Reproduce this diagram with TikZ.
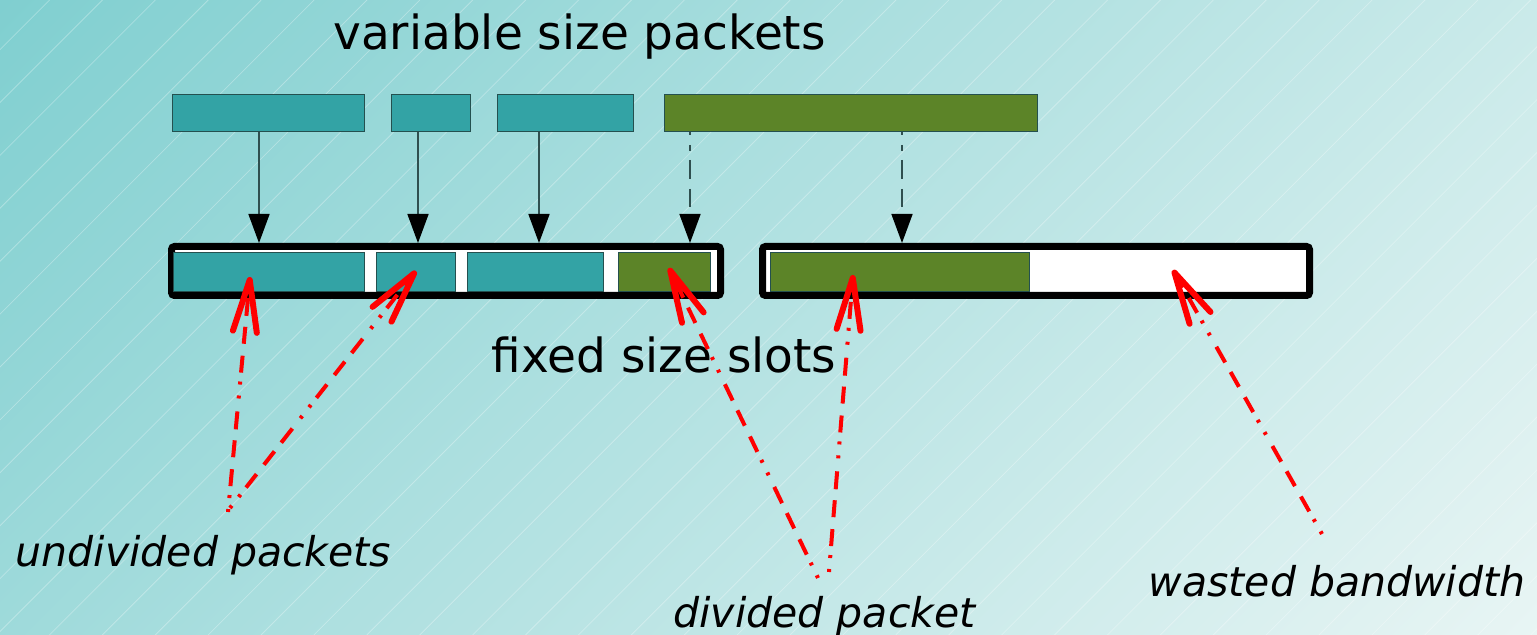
\documentclass[tikz,border=0pt]{standalone}
\usepackage{fontspec}
\setmainfont{DejaVu Sans}
\usetikzlibrary{arrows.meta}
\definecolor{teal1}{HTML}{33A3A5}
\definecolor{green1}{HTML}{5C8428}
\definecolor{edge1}{HTML}{24504F}
\definecolor{bgdark}{HTML}{80CFD0}
\definecolor{bglight}{HTML}{E8F5F4}
\definecolor{shaftc}{HTML}{2F4F4F}
\begin{document}
\begin{tikzpicture}[x=0.5pt,y=-0.5pt,
  pkt/.style={draw=edge1, line width=0.5pt, inner sep=0pt, outer sep=0pt, minimum height=18.5pt},
  tpkt/.style={pkt, fill=teal1},
  gpkt/.style={pkt, fill=green1},
  ipkt/.style={pkt, minimum height=19.5pt},
  slot/.style={draw=black, fill=white, line width=3.5pt, rounded corners=1.5pt, inner sep=0pt, minimum height=24.5pt},
  bigtext/.style={font=\fontsize{23.5}{28}\selectfont, inner sep=0pt, anchor=base},
  labtext/.style={font=\fontsize{20.5}{24}\selectfont\itshape, inner sep=0pt, anchor=base},
  blk/.style={draw=shaftc, line width=0.8pt, -{Triangle[length=14.5pt,width=10.5pt,color=black]}},
  blkdash/.style={blk, dash pattern=on 1.5pt off 5pt on 3pt off 4.5pt on 9.5pt off 5pt on 9pt off 10pt},
  redarr/.style={draw=red, line width=2pt,
    dash pattern=on 1.5pt off 5.5pt on 1.5pt off 4.5pt on 8.5pt off 6pt on 8.5pt off 5.5pt on 9pt off 6.5pt,
    -{Straight Barb[length=26pt,width=12pt,line width=3pt,round]}}
]
\useasboundingbox (0,0) rectangle (1537,635);
% background
\begin{scope}
  \clip (0,0) rectangle (1537,635);
  \shade[top color=bgdark, bottom color=bglight, shading angle=45]
    (-1.5,-452.5) rectangle (1538.5,1087.5);
  \foreach \k in {-7,...,34}{
    \pgfmathsetmacro{\cc}{367+52.9*\k}
    \draw[white, opacity=0.3, line width=0.4pt] (\cc,0) -- ++(-635,635);
  }
\end{scope}

% title
\node[bigtext] (title) at (579.5,50) {variable size packets};

% top packets
\node[tpkt, minimum width=96pt]   (p1) at (268,113.5) {};
\node[tpkt, minimum width=39.5pt] (p2) at (430.5,113.5) {};
\node[tpkt, minimum width=68pt]   (p3) at (565,113.5) {};
\node[gpkt, minimum width=186.5pt] (p4) at (850.5,113.5) {};

% slots
\node[slot, minimum width=274.5pt] (s1) at (446,271) {};
\node[slot, minimum width=273.5pt] (s2) at (1036,271) {};

% packets inside slots
\node[ipkt, fill=teal1, minimum width=95.5pt] (q1) at (268.5,272.5) {};
\node[ipkt, fill=teal1, minimum width=39.5pt] (q2) at (415.5,272.5) {};
\node[ipkt, fill=teal1, minimum width=68pt]   (q3) at (535,272.5) {};
\node[ipkt, fill=green1, minimum width=46pt]  (q4) at (664,272.5) {};
\node[ipkt, fill=green1, minimum width=129.5pt] (q5) at (899.5,272.5) {};

% black arrows
\coordinate (a1) at (259,132);
\coordinate (a2) at (418,132);
\coordinate (a3) at (539,132);
\coordinate (a4) at (690,132);
\coordinate (a5) at (902,132);
\draw[blk] (a1) -- (a1 |- s1.north);
\draw[blk] (a2) -- (a2 |- s1.north);
\draw[blk] (a3) -- (a3 |- s1.north);
\draw[blkdash] (a4) -- (a4 |- s1.north);
\draw[blkdash] (a5) -- (a5 |- s2.north);

% labels
\node[bigtext] (fixed) at (664,373) {fixed size slots};
\node[labtext] (undiv) at (203.5,567) {undivided packets};
\node[labtext] (div) at (824.5,628) {divided packet};
\node[labtext] (waste) at (1337,597) {wasted bandwidth};

% red arrows
\coordinate (u1) at (228,512);
\coordinate (u2) at (230,508);
\coordinate (d1) at (818,578);
\coordinate (d2) at (829,572);
\coordinate (w1) at (1322,534);
\coordinate (t1) at (250,277);
\coordinate (t2) at (416,271);
\coordinate (t3) at (669,268);
\coordinate (t4) at (853,275);
\coordinate (t5) at (1173,270);
\draw[redarr] (u1) -- (t1);
\draw[redarr] (u2) -- (t2);
\draw[redarr] (d1) -- (t3);
\draw[redarr] (d2) -- (t4);
\draw[redarr] (w1) -- (t5);
\end{tikzpicture}
\end{document}
